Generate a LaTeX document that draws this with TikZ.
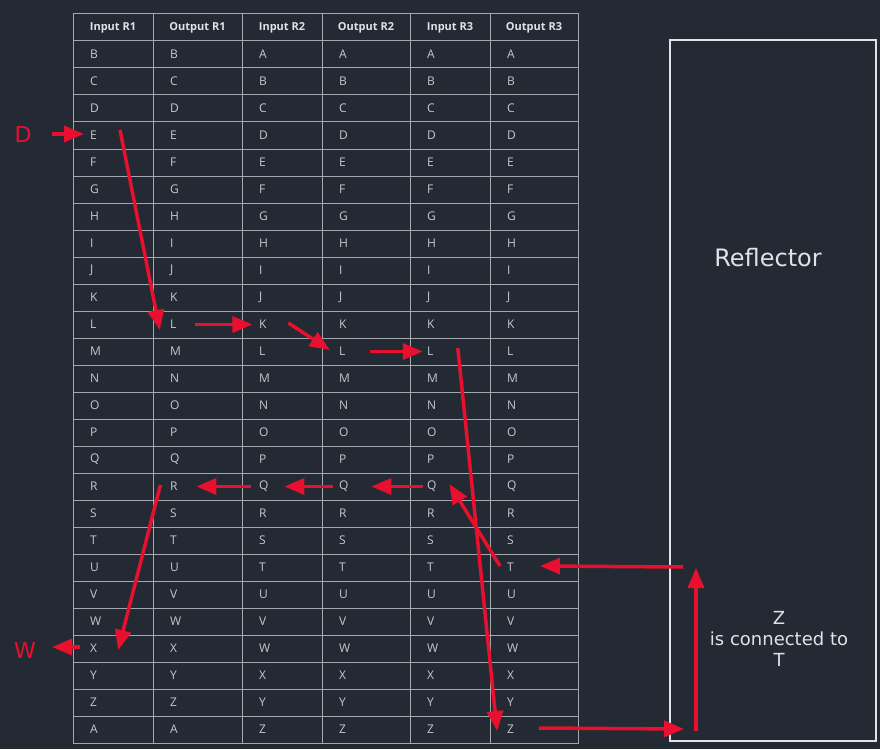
\documentclass[tikz,border=0pt]{standalone}
\usepackage{fontspec}
\setmainfont{DejaVu Sans}
\newfontfamily\tablefont{Open Sans}
\usetikzlibrary{arrows.meta,positioning}
\definecolor{bg}{HTML}{232A33}
\definecolor{grid}{HTML}{A3A8AE}
\definecolor{arrowred}{HTML}{E8102E}
\definecolor{letter}{HTML}{C5C9CD}
\definecolor{paper}{HTML}{E0E3E6}

\begin{document}
\begin{tikzpicture}[x=1pt, y=-1pt,
    cell/.style = {anchor=west, inner sep=1pt, text=letter, font=\tablefont\fontsize{12}{14}\selectfont},
    head/.style = {inner sep=1pt, text=paper, font=\tablefont\bfseries\fontsize{11}{13}\selectfont},
    redarrow/.style = {draw=arrowred, line width=3.5pt, -{Triangle[length=20pt,width=16pt]}},
    redtext/.style = {text=arrowred, font=\fontsize{22}{26}\selectfont}]

    \fill[bg] (0,0) rectangle (880,749);
    \useasboundingbox (0,0) rectangle (880,749);

    % table
    \draw[grid, line width=1pt] (73,14) rectangle (578,743);
    \foreach \x in {153,242,322,410,490} \draw[grid, line width=1pt] (\x,14) -- (\x,743);
    \foreach \y in {41,68,...,716} \draw[grid, line width=1pt] (73,\y) -- (578,\y);

    \foreach \t/\x/\n in {Input R1/113/1, Output R1/197.5/2, Input R2/282/3, Output R2/366/4, Input R3/450/5, Output R3/534/6}
        \node[head] (head\n) at (\x,28) {\t};

    \foreach \l [count=\i from 0] in {B,C,D,E,F,G,H,I,J,K,L,M,N,O,P,Q,R,S,T,U,V,W,X,Y,Z,A} {
        \node[cell] (c1-\i) at (89,54.5+27*\i) {\l};
        \node[cell] (c2-\i) at (169,54.5+27*\i) {\l};
    }
    \foreach \l [count=\i from 0] in {A,B,C,D,E,F,G,H,I,J,K,L,M,N,O,P,Q,R,S,T,U,V,W,X,Y,Z} {
        \node[cell] (c3-\i) at (258,54.5+27*\i) {\l};
        \node[cell] (c4-\i) at (338,54.5+27*\i) {\l};
        \node[cell] (c5-\i) at (426,54.5+27*\i) {\l};
        \node[cell] (c6-\i) at (506,54.5+27*\i) {\l};
    }

    % reflector
    \node[draw=paper, line width=2pt, minimum width=206, minimum height=701, inner sep=0pt] (refl) at (773,390.5) {};
    \node[text=paper, font=\fontsize{24}{28}\selectfont] (refltitle) at (768,258) {Reflector};
    \node[text=paper, align=center, font=\fontsize{18}{21}\selectfont] (reflnote) at (779,639) {Z\\is connected to\\T};

    % path of the letter
    \node[redtext] (din) at (23,134) {D};
    \node[redtext] (wout) at (25,650) {W};

    \draw[redarrow] ([shift={(29,0)}]din.center) -- ([shift={(-9.5,-1.5)}]c1-3.center);
    \draw[redarrow] ([shift={(26.5,-5.5)}]c1-3.center) -- ([shift={(-13.5,5.5)}]c2-10.center);
    \draw[redarrow] ([shift={(21.5,0)}]c2-10.center) -- ([shift={(-10.5,0)}]c3-10.center);
    \draw[redarrow] ([shift={(25.5,-1.5)}]c3-10.center) -- ([shift={(-12.5,-1.5)}]c4-11.center);
    \draw[redarrow] ([shift={(27.5,0)}]c4-11.center) -- ([shift={(-7.5,0)}]c5-11.center);
    \draw[redarrow] ([shift={(27.5,-3.5)}]c5-11.center) -- ([shift={(-13.5,1.5)}]c6-25.center);
    \draw[redarrow] ([shift={(28.5,-1.5)}]c6-25.center) -- ([shift={(15,-13)}]refl.south west);
    \draw[redarrow] ([shift={(27,-11)}]refl.south west) -- ([shift={(27,-174)}]refl.south west);
    \draw[redarrow] ([shift={(14,-175)}]refl.south west) -- ([shift={(29.5,-1.5)}]c6-19.center);
    \draw[redarrow] ([shift={(-10.5,-1.5)}]c6-19.center) -- ([shift={(17.5,-2.5)}]c5-16.center);
    \draw[redarrow] ([shift={(-8.5,0)}]c5-16.center) -- ([shift={(27.5,0)}]c4-16.center);
    \draw[redarrow] ([shift={(-10.5,0)}]c4-16.center) -- ([shift={(20.5,0)}]c3-16.center);
    \draw[redarrow] ([shift={(-12.5,0)}]c3-16.center) -- ([shift={(22.5,0)}]c2-16.center);
    \draw[redarrow] ([shift={(-13.5,-1.5)}]c2-16.center) -- ([shift={(24.5,1.5)}]c1-22.center);
    \draw[redarrow] ([shift={(-13.5,-1.5)}]c1-22.center) -- ([shift={(27,-3)}]wout.center);

\end{tikzpicture}
\end{document}
